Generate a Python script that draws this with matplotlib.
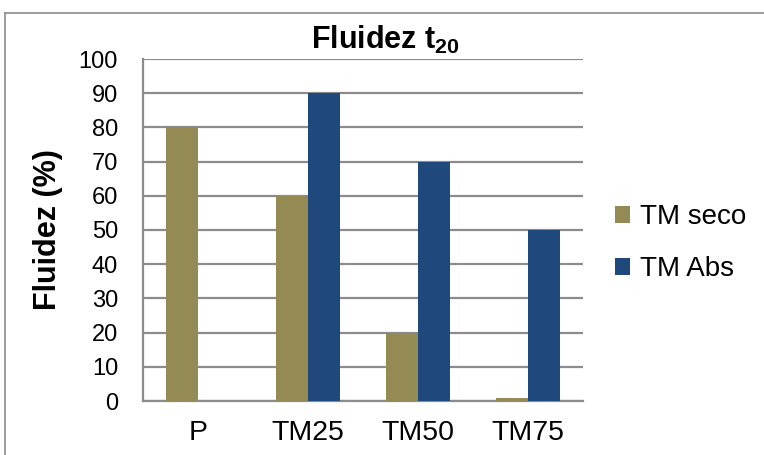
import matplotlib
matplotlib.use("Agg")
import matplotlib.pyplot as plt
import numpy as np
from matplotlib.lines import Line2D

categories = ["P", "TM25", "TM50", "TM75"]
series_names = ["TM seco", "TM Abs"]
tm_seco = [80, 60, 20, 1]
tm_abs = [0, 90, 70, 50]
colors = ["#948A54", "#1F497D"]

plt.rcParams['font.family'] = ['Liberation Sans', 'DejaVu Sans']
plt.rcParams['mathtext.fontset'] = 'custom'
plt.rcParams['mathtext.rm'] = 'Liberation Sans'
plt.rcParams['mathtext.bf'] = 'Liberation Sans:bold'

fig = plt.figure(figsize=(7.64, 4.55), dpi=100)
ax = fig.add_axes([143/764, 1-401/455, 440/764, 342/455])

x = np.arange(len(categories))
w = 0.29
ax.bar(x - w/2, tm_seco, w, color=colors[0], label=series_names[0], zorder=3)
ax.bar(x + w/2, tm_abs, w, color=colors[1], label=series_names[1], zorder=3)

ax.set_xlim(-0.5, len(categories) - 0.5)
ax.set_ylim(0, 100)
ax.set_yticks(range(0, 101, 10))
ax.set_xticks(x)
ax.set_xticklabels(categories)
ax.tick_params(axis='both', length=0)
ax.tick_params(axis='y', pad=18, labelsize=17)
ax.tick_params(axis='x', pad=14, labelsize=20.5)
ax.yaxis.grid(True, color="#8C8C8C", linewidth=1.6, zorder=0)
for s in ["top", "right"]:
    ax.spines[s].set_visible(False)
for s in ["left", "bottom"]:
    ax.spines[s].set_color("#8C8C8C")
    ax.spines[s].set_linewidth(1.6)
ax.set_ylabel("Fluidez (%)", fontsize=22, fontweight="bold", labelpad=11)
fig.text(385/764, 1-40/455, r"Fluidez t$_{\mathbf{20}}$", fontsize=22, fontweight="bold",
         ha="center", va="center")

leg = fig.legend(loc="upper left", bbox_to_anchor=(590/764, 1-179/455), frameon=False,
                 fontsize=20, handlelength=0.55, handleheight=0.55, handletextpad=0.35,
                 labelspacing=0.95)

# outer frame
fig.add_artist(Line2D([5/764, 5/764], [0, 1-13/455], transform=fig.transFigure, color="#8C8C8C", linewidth=1.2))
fig.add_artist(Line2D([5/764, 1], [1-13/455, 1-13/455], transform=fig.transFigure, color="#8C8C8C", linewidth=1.2))

fig.savefig("out.png", dpi=100)
